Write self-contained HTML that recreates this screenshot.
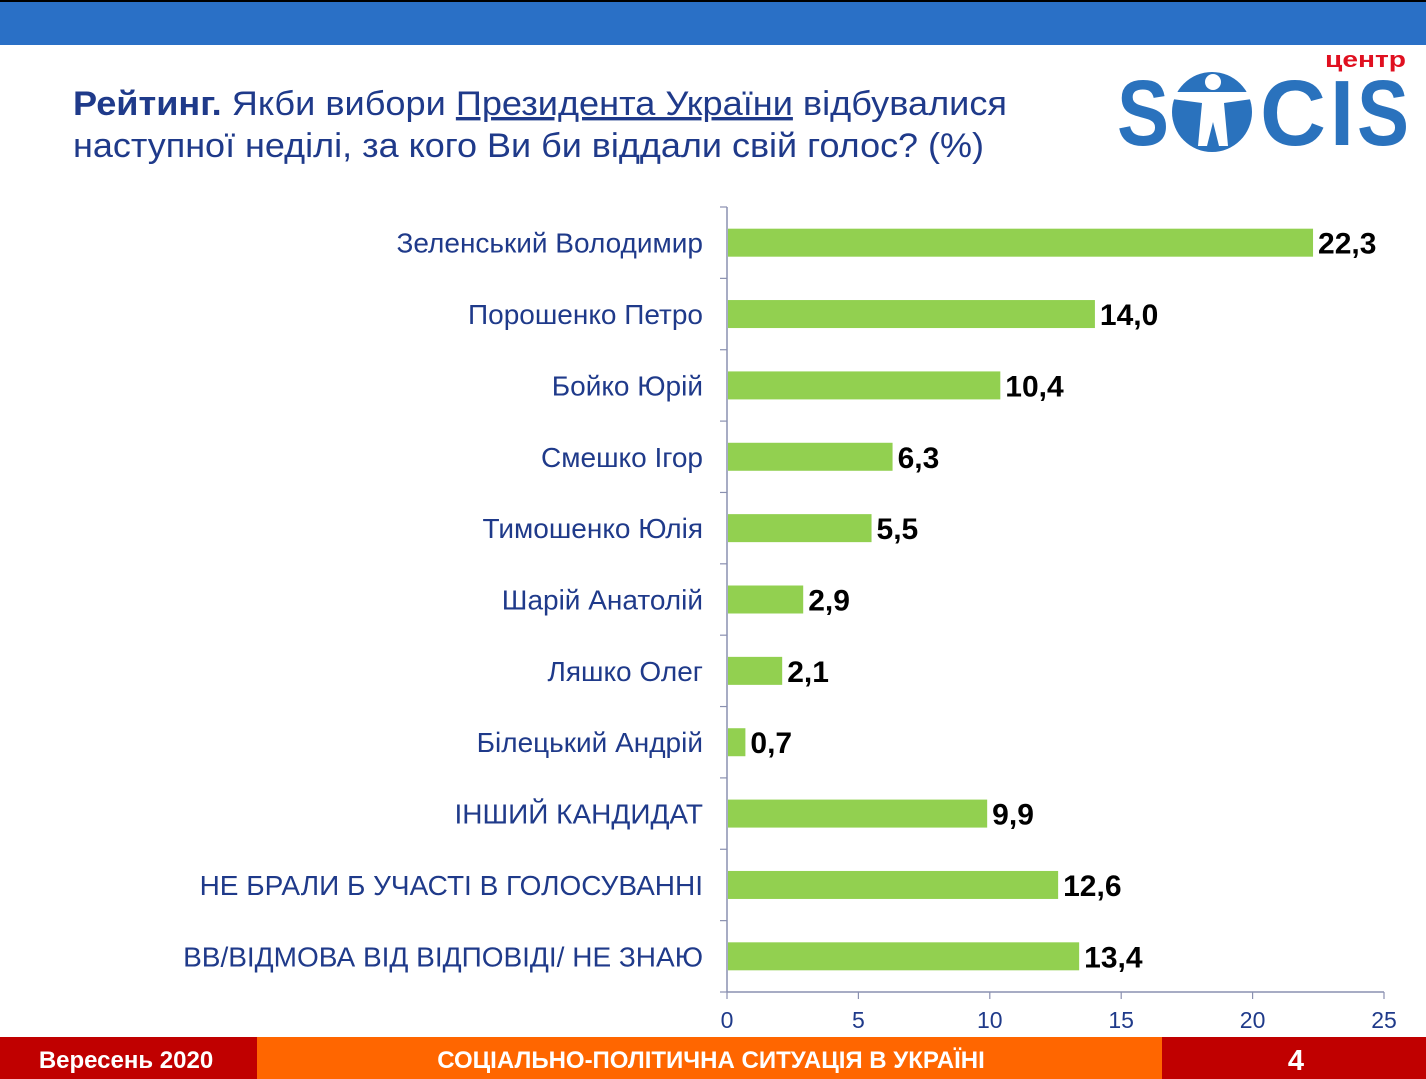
<!DOCTYPE html>
<html><head><meta charset="utf-8">
<style>
html,body{margin:0;padding:0;background:#fff;}
body{width:1426px;height:1079px;overflow:hidden;position:relative;font-family:"Liberation Sans","DejaVu Sans",sans-serif;}
svg{position:absolute;left:0;top:0;}
</style></head>
<body>
<svg id="chart" width="1426" height="1079">
  <rect x="0" y="0" width="1426" height="2" fill="#000"/>
  <rect x="0" y="2" width="1426" height="43" fill="#2a70c6"/>
  <text x="73" y="115" font-size="34" fill="#1f3a8a" textLength="934" lengthAdjust="spacingAndGlyphs"><tspan font-weight="bold">Рейтинг.</tspan> Якби вибори <tspan text-decoration="underline">Президента України</tspan> відбувалися</text>
  <text x="73" y="157" font-size="34" fill="#1f3a8a" textLength="911" lengthAdjust="spacingAndGlyphs">наступної неділі, за кого Ви би віддали свій голос? (%)</text>
  <g>
    <text x="1325" y="67" font-size="22" font-weight="bold" fill="#e01020" textLength="81" lengthAdjust="spacingAndGlyphs">центр</text>
    <g font-size="93" font-weight="bold" fill="#2a72bd" font-family="'Liberation Sans',sans-serif">
      <text x="1117" y="145" textLength="52" lengthAdjust="spacingAndGlyphs">S</text>
      <text x="1260" y="145" textLength="66" lengthAdjust="spacingAndGlyphs">C</text>
      <text x="1330" y="145" textLength="24" lengthAdjust="spacingAndGlyphs">I</text>
      <text x="1357" y="145" textLength="52" lengthAdjust="spacingAndGlyphs">S</text>
    </g>
    <circle cx="1212" cy="112" r="40" fill="#2a72bd"/>
    <circle cx="1213" cy="82" r="8" fill="#fff"/>
    <path d="M1172 92 L1252 92 L1252 99 L1224 103 L1228 146 L1219 146 L1213 122 L1207 146 L1198 146 L1202 103 L1172 99 Z" fill="#fff"/>
  </g>
  <g id="plot"></g>
  <rect x="0" y="1037" width="257" height="42" fill="#c00000"/>
  <rect x="257" y="1037" width="905" height="42" fill="#ff6600"/>
  <rect x="1162" y="1037" width="264" height="42" fill="#c00000"/>
  <text x="126" y="1068" font-size="24" font-weight="bold" fill="#fff" text-anchor="middle">Вересень 2020</text>
  <text x="711" y="1068" font-size="24" font-weight="bold" fill="#fff" text-anchor="middle">СОЦІАЛЬНО-ПОЛІТИЧНА СИТУАЦІЯ В УКРАЇНІ</text>
  <text x="1296" y="1070" font-size="29" font-weight="bold" fill="#fff" text-anchor="middle">4</text>
</svg>
<script>
const categories = ["Зеленський Володимир","Порошенко Петро","Бойко Юрій","Смешко Ігор","Тимошенко Юлія","Шарій Анатолій","Ляшко Олег","Білецький Андрій","ІНШИЙ КАНДИДАТ","НЕ БРАЛИ Б УЧАСТІ В ГОЛОСУВАННІ","ВВ/ВІДМОВА ВІД ВІДПОВІДІ/ НЕ ЗНАЮ"];
const values = [22.3,14.0,10.4,6.3,5.5,2.9,2.1,0.7,9.9,12.6,13.4];
const valueLabels = ["22,3","14,0","10,4","6,3","5,5","2,9","2,1","0,7","9,9","12,6","13,4"];
const xTicks = [0,5,10,15,20,25];

const NS = "http://www.w3.org/2000/svg";
const X0 = 727, X1 = 1384, XMAX = 25;
const Y0 = 207, Y1 = 992;
const band = (Y1 - Y0) / categories.length;
const xScale = v => X0 + (v / XMAX) * (X1 - X0);
const yCenter = i => Y0 + band * (i + 0.5);
const plot = document.getElementById('plot');
function mk(tag, attrs, parent) {
  const e = document.createElementNS(NS, tag);
  for (const k in attrs) e.setAttribute(k, attrs[k]);
  (parent || plot).appendChild(e);
  return e;
}
let ax = mk('line', {x1: X0, y1: Y0, x2: X0, y2: Y1, stroke: '#8a90b0', 'stroke-width': 1.5});


let bx = mk('line', {x1: X0, y1: Y1, x2: X1, y2: Y1, stroke: '#8a90b0', 'stroke-width': 1.5});


for (let i = 0; i <= categories.length; i++) {
  const y = Y0 + band * i;
  const t = mk('line', {x1: X0 - 7, y1: y, x2: X0, y2: y, stroke: '#8a90b0', 'stroke-width': 1.2});
  
  
}
xTicks.forEach(v => {
  const x = xScale(v);
  const t = mk('line', {x1: x, y1: Y1, x2: x, y2: Y1 + 7, stroke: '#8a90b0', 'stroke-width': 1.2});
  
  
  const l = mk('text', {x: x, y: 1028, 'font-size': 23, fill: '#1f3a8a', 'text-anchor': 'middle'});
  l.textContent = String(v);
  
  
});
categories.forEach((c, i) => {
  const cy = yCenter(i);
  const lab = mk('text', {x: 703, y: cy + 10, 'font-size': 28, fill: '#1f3a8a', 'text-anchor': 'end'});
  lab.textContent = c;
  
  
  const w = xScale(values[i]) - X0;
  const bar = mk('rect', {x: X0 + 1, y: cy - 14, width: Math.max(0, w - 1), height: 28, fill: '#92d050'});
  
  
  const vl = mk('text', {x: xScale(values[i]) + 5, y: cy + 11, 'font-size': 30, 'font-weight': 'bold', fill: '#000',
    'font-family': '"Liberation Sans Narrow","Liberation Sans",sans-serif'});
  vl.textContent = valueLabels[i];
  
  
});
</script>
</body></html>
